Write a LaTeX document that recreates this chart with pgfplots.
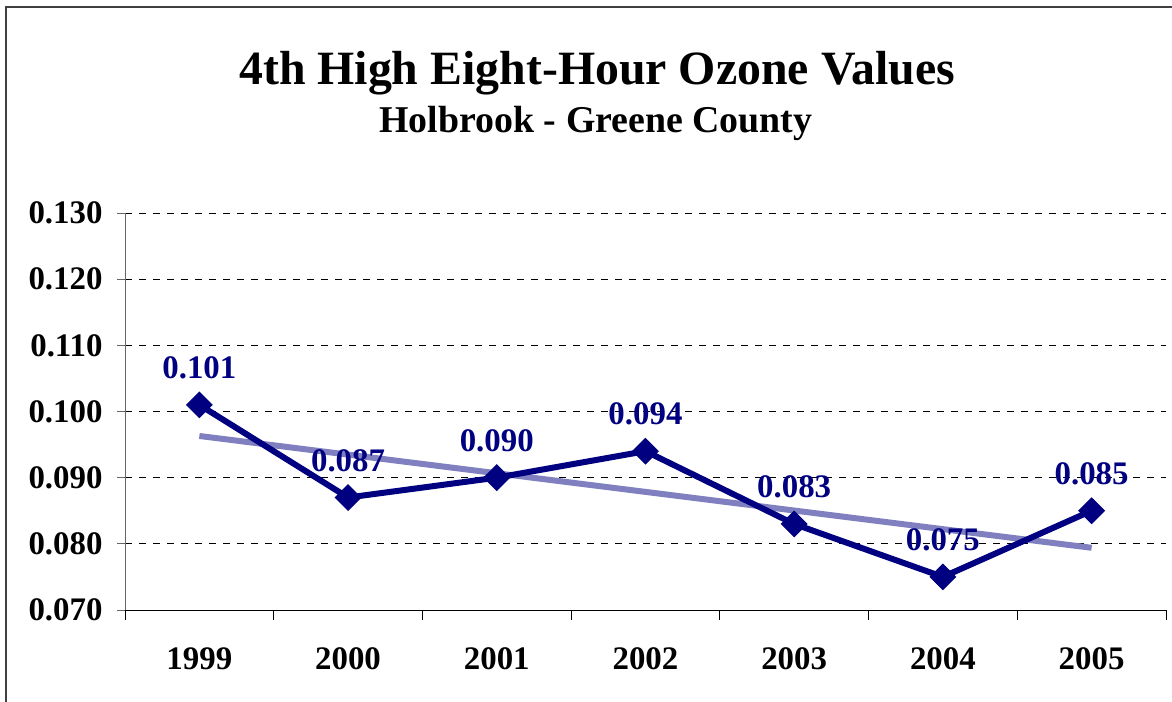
\documentclass[border=0pt]{standalone}
\usepackage{pgfplots}
\pgfplotsset{compat=1.18}
\usepackage{fontspec}
\setmainfont{Liberation Serif}
\definecolor{navy}{RGB}{0,0,128}
\definecolor{trend}{RGB}{128,128,192}
\begin{document}
\begin{tikzpicture}[x=1bp,y=1bp]
% chart frame (cut off at right and bottom)
\draw[line width=2bp, black!75] (6,-20) -- (6,695) -- (1190,695);
\node[font=\fontsize{48}{52}\selectfont\bfseries, anchor=base] at (597,617) {4th High Eight-Hour Ozone Values};
\node[font=\fontsize{38}{42}\selectfont\bfseries, anchor=base] at (596,569) {Holbrook - Greene County};
\begin{axis}[
    at={(125bp,92bp)}, anchor=south west,
    scale only axis,
    width=1041bp, height=397bp,
    xmin=-0.5, xmax=6.5,
    ymin=0.070, ymax=0.130,
    ytick={0.07,0.08,...,0.13},
    xtick={0,...,6},
    xticklabels={1999,2000,2001,2002,2003,2004,2005},
    minor xtick={-0.5,0.5,...,6.5},
    major x tick style={draw=none},
    minor x tick style={black, line width=0.8bp},
    minor tick length=10bp,
    major tick length=8bp,
    ytick style={black!60, line width=0.8bp},
    tick align=outside,
    axis x line*=bottom, axis y line*=left,
    x axis line style={black, line width=0.8bp, -},
    y axis line style={black!60, line width=0.8bp, -},
    ymajorgrids,
    grid style={black, dashed, line width=0.8bp, dash pattern=on 7bp off 7bp},
    /pgf/number format/assume math mode=true,
    yticklabel style={font=\fontsize{33}{36}\selectfont\bfseries, xshift=-11bp, /pgf/number format/.cd, fixed, precision=3, zerofill},
    xticklabel style={font=\fontsize{33}{36}\selectfont\bfseries, yshift=-26bp},
    scaled y ticks=false,
    clip=false,
]
% linear trend (least squares fit of the data)
\addplot[trend, line width=6bp] coordinates {(0,0.0963) (6,0.0794)};
% data
\addplot[navy, line width=6bp, mark=square*,
    mark options={rotate=45, mark size=9bp, line width=1bp, fill=navy},
    nodes near coords, point meta=y,
    every node near coord/.append style={anchor=center, yshift=37bp, text=navy,
        font=\fontsize{33}{36}\selectfont\bfseries,
        /pgf/number format/.cd, fixed, precision=3, zerofill}]
coordinates {(0,0.101) (1,0.087) (2,0.090) (3,0.094) (4,0.083) (5,0.075) (6,0.085)};
\end{axis}
\pgfresetboundingbox
\path[use as bounding box] (0,0) rectangle (1172,702);
\end{tikzpicture}
\end{document}
